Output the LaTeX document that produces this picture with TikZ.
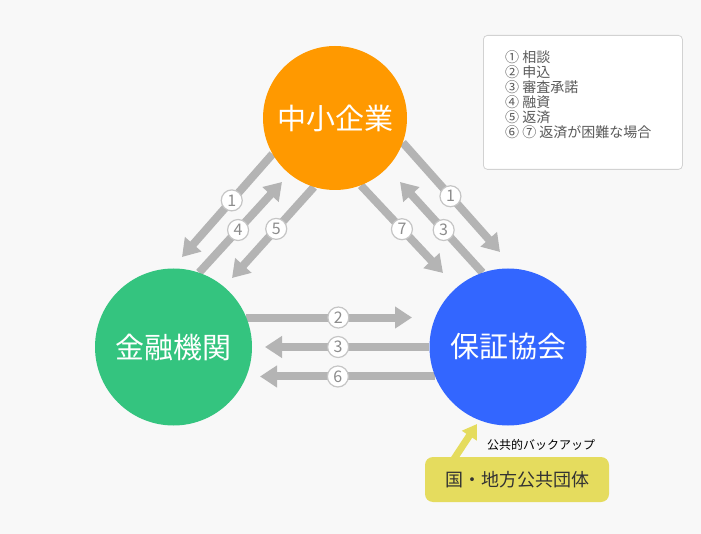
\documentclass[tikz,border=0pt]{standalone}
\usepackage{fontspec}
\setmainfont{Noto Sans CJK JP}
\usetikzlibrary{arrows.meta}

\definecolor{bgcol}{HTML}{F8F8F8}
\definecolor{smecol}{HTML}{FF9900}
\definecolor{bankcol}{HTML}{34C47F}
\definecolor{guarcol}{HTML}{3366FF}
\definecolor{govcol}{HTML}{E5DC5E}
\definecolor{flowcol}{HTML}{B4B4B4}
\definecolor{numcol}{HTML}{8C8C8C}
\definecolor{boxline}{HTML}{D2D2D2}
\definecolor{legcol}{HTML}{5A5A5A}

\pgfdeclarelayer{back}
\pgfsetlayers{back,main}

\tikzset{
	party/.style={circle, inner sep=0pt, text=white, font=\fontsize{29}{29}\selectfont},
	flow/.style={line width=8pt, draw=flowcol, -{Triangle[width=21pt,length=17pt]}},
	num/.style={circle, draw=numcol!50, fill=white, line width=1.2pt, minimum size=21pt, inner sep=0pt, text=numcol, font=\fontsize{16}{16}\selectfont},
	legendbox/.style={draw=boxline, fill=white, rounded corners=4pt, line width=0.8pt, minimum width=199pt, minimum height=134pt, inner sep=0pt},
	legendtext/.style={align=left, inner sep=0pt, text=legcol, font=\fontsize{14}{15}\selectfont},
	govbox/.style={fill=govcol, rounded corners=8pt, minimum width=184pt, minimum height=45pt, inner sep=0pt, text=black!80, font=\fontsize{18}{18}\selectfont},
	backup/.style={line width=7pt, draw=govcol, -{Triangle[width=17pt,length=14pt]}}
}

\begin{document}
\begin{tikzpicture}[x=1pt, y=-1pt]
	%%%%% START %%%%%
	\useasboundingbox (0,0) rectangle (701,534);
	\begin{pgfonlayer}{back}
		\fill[bgcol] (0,0) rectangle (701,534);
	\end{pgfonlayer}
	
	% the three parties
	\node[party, fill=smecol, minimum size=144pt] (sme) at (335,118) {中小企業};
	\node[party, fill=bankcol, minimum size=157pt] (bank) at (173.5,347) {金融機関};
	\node[party, fill=guarcol, minimum size=157pt] (guar) at (508,347) {保証協会};
	
	% legend
	\node[legendbox, anchor=north west] (legend) at (483,35) {};
	\node[legendtext, anchor=north west] (legendtext) at ([shift={(22,15.5)}]legend.north west)
		{① 相談\\② 申込\\③ 審査承諾\\④ 融資\\⑤ 返済\\⑥ ⑦ 返済が困難な場合};
	
	% public backup
	\node[govbox] (gov) at (517,479.5) {国・地方公共団体};
	\node[font=\fontsize{12}{12}\selectfont, inner sep=0pt] (backuplabel) at (541,445) {公共的バックアップ};
	\coordinate (govtip) at (477,424);
	
	% arrow tips
	\coordinate (tipL1) at (182,257);
	\coordinate (tipL4) at (282,182);
	\coordinate (tipL5) at (232,278);
	\coordinate (tipR1) at (500,252);
	\coordinate (tipR3) at (400,182);
	\coordinate (tipR7) at (443,273);
	\coordinate (tipH2) at (412,317);
	\coordinate (tipH3) at (265,347);
	\coordinate (tipH6) at (260,377);
	
	\begin{pgfonlayer}{back}
		\draw[flow] (sme.210) -- node[num, pos=.45] {1} (tipL1);
		\draw[flow] (bank.71) -- node[num, pos=.47] {4} (tipL4);
		\draw[flow] (sme.253) -- node[num, pos=.46] {5} (tipL5);
		
		\draw[flow] (sme.-20) -- node[num, pos=.49] {1} (tipR1);
		\draw[flow] (guar.109) -- node[num, pos=.47] {3} (tipR3);
		\draw[flow] (sme.-69) -- node[num, pos=.5] {7} (tipR7);
		
		\draw[flow] (bank.22) -- node[num, pos=.555] {2} (bank.22 -| tipH2);
		\draw[flow] (guar.west) -- node[num, pos=.555] {3} (tipH3);
		\draw[flow] (guar.202) -- node[num, pos=.555] {6} (guar.202 -| tipH6);
		
		\draw[backup] ([shift={(28,4)}]gov.north west) -- (govtip);
	\end{pgfonlayer}
	
	%%%%% END %%%%%
\end{tikzpicture}
\end{document}
